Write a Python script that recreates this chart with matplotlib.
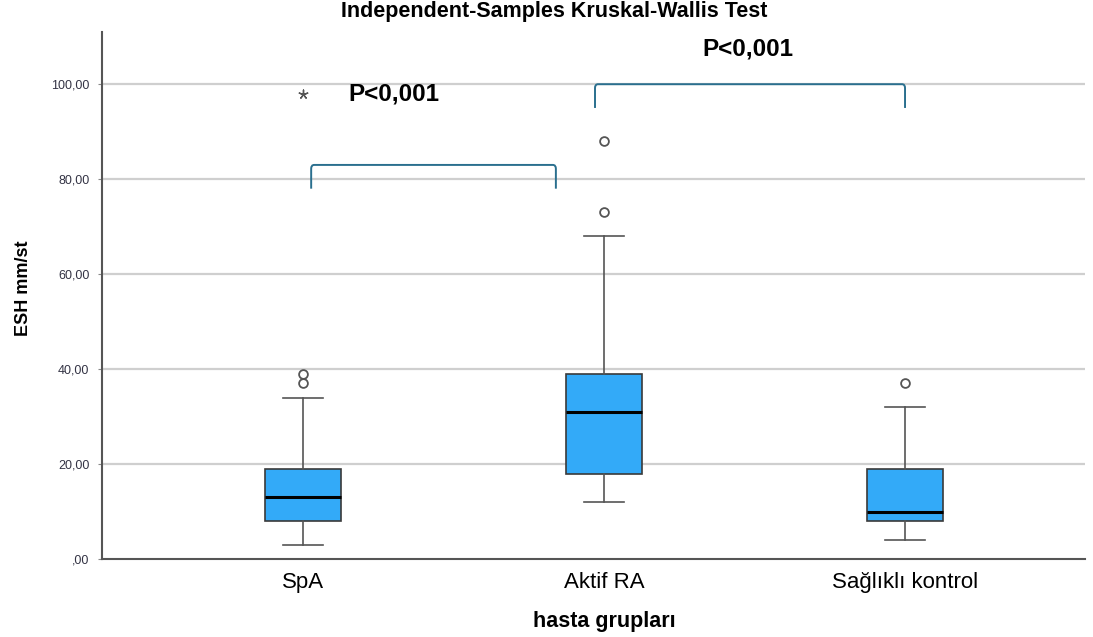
import numpy as np
import matplotlib
matplotlib.use("Agg")
import matplotlib.pyplot as plt
from matplotlib.path import Path
from matplotlib.patches import PathPatch

plt.rcParams['font.family'] = ['Liberation Sans', 'DejaVu Sans']

# box summary values
groups = ["SpA", "Aktif RA", "Sağlıklı kontrol"]
q1 = [8, 18, 8]
medians = [13, 31, 10]
q3 = [19, 39, 19]
whis_lo = [3, 12, 4]
whis_hi = [34, 68, 32]
outliers = [[37, 39], [73, 88], [37]]
extremes = [[98], [], []]

y_ticks = [0, 20, 40, 60, 80, 100]
y_tick_labels = [",00", "20,00", "40,00", "60,00", "80,00", "100,00"]

# pairwise comparisons: (left x, right x, bracket top, text, text x, text y)
pairs = [(1.027, 1.84, 83, "P<0,001", 1.15, 98),
         (1.97, 3.0, 100, "P<0,001", 2.327, 107.4)]

fig = plt.figure(figsize=(10.93, 6.37), dpi=100)
ax = fig.add_axes([0.0933, 0.1224, 0.8994, 0.8274])

positions = [1, 2, 3]
stats = []
for i in range(len(groups)):
    stats.append(dict(med=medians[i], q1=q1[i], q3=q3[i],
                      whislo=whis_lo[i], whishi=whis_hi[i], fliers=[]))

ax.bxp(stats, positions=positions, widths=0.25, patch_artist=True,
       showfliers=False,
       boxprops=dict(facecolor="#33aaf8", edgecolor="#3a3a3a", linewidth=1.2),
       medianprops=dict(color="black", linewidth=2.2),
       whiskerprops=dict(color="#555555", linewidth=1.2),
       capprops=dict(color="#555555", linewidth=1.2),
       capwidths=0.13, zorder=3)

for p, outs, ext in zip(positions, outliers, extremes):
    if outs:
        ax.scatter([p] * len(outs), outs, s=40, facecolor="white",
                   edgecolor="#555555", linewidth=1.3, zorder=4)
    if ext:
        ax.scatter([p] * len(ext), ext, marker=(5, 2, 0), s=40,
                   color="#555555", linewidth=1.0, zorder=4)

# brackets with rounded corners
for xa, xb, top, label, tx, ty in pairs:
    h = 5
    r = 0.01
    verts = [(xa, top - h), (xa, top - 0.8), (xa, top), (xa + r, top),
             (xb - r, top), (xb, top), (xb, top - 0.8), (xb, top - h)]
    codes = [Path.MOVETO, Path.LINETO, Path.CURVE3, Path.CURVE3,
             Path.LINETO, Path.CURVE3, Path.CURVE3, Path.LINETO]
    ax.add_patch(PathPatch(Path(verts, codes), facecolor="none",
                           edgecolor="#2a6f8e", linewidth=1.4, zorder=3))
    ax.text(tx, ty, label, fontsize=17.5, fontweight="bold",
            ha="left", va="center")

ax.set_xlim(0.332, 3.598)
ax.set_ylim(0, 111)
ax.set_xticks(positions)
ax.set_xticklabels(groups, fontsize=16)
ax.set_yticks(y_ticks)
ax.set_yticklabels(y_tick_labels, fontsize=9, color="#333344")
ax.tick_params(axis="x", length=0, pad=9)
ax.tick_params(axis="y", length=3, color="#888888", pad=6)

for y in y_ticks[1:]:
    ax.axhline(y, color="#cfcfcf", linewidth=1.6, zorder=1)

for s in ["top", "right"]:
    ax.spines[s].set_visible(False)
ax.spines["left"].set_color("#555555")
ax.spines["left"].set_linewidth(1.5)
ax.spines["bottom"].set_color("#555555")
ax.spines["bottom"].set_linewidth(1.5)

ax.set_xlabel("hasta grupları", fontsize=15.5, fontweight="bold")
ax.xaxis.set_label_coords(0.511, -0.098)
ax.set_ylabel("ESH mm/st", fontsize=13, fontweight="bold")
ax.yaxis.set_label_coords(-0.071, 0.514)

# title sits partly above the top edge, as in the source screenshot
fig.text(0.507, 1 - 17 / 637, "Independent-Samples Kruskal-Wallis Test",
         fontsize=15.5, fontweight="bold", ha="center", va="baseline")

fig.savefig("out.png", dpi=100)
